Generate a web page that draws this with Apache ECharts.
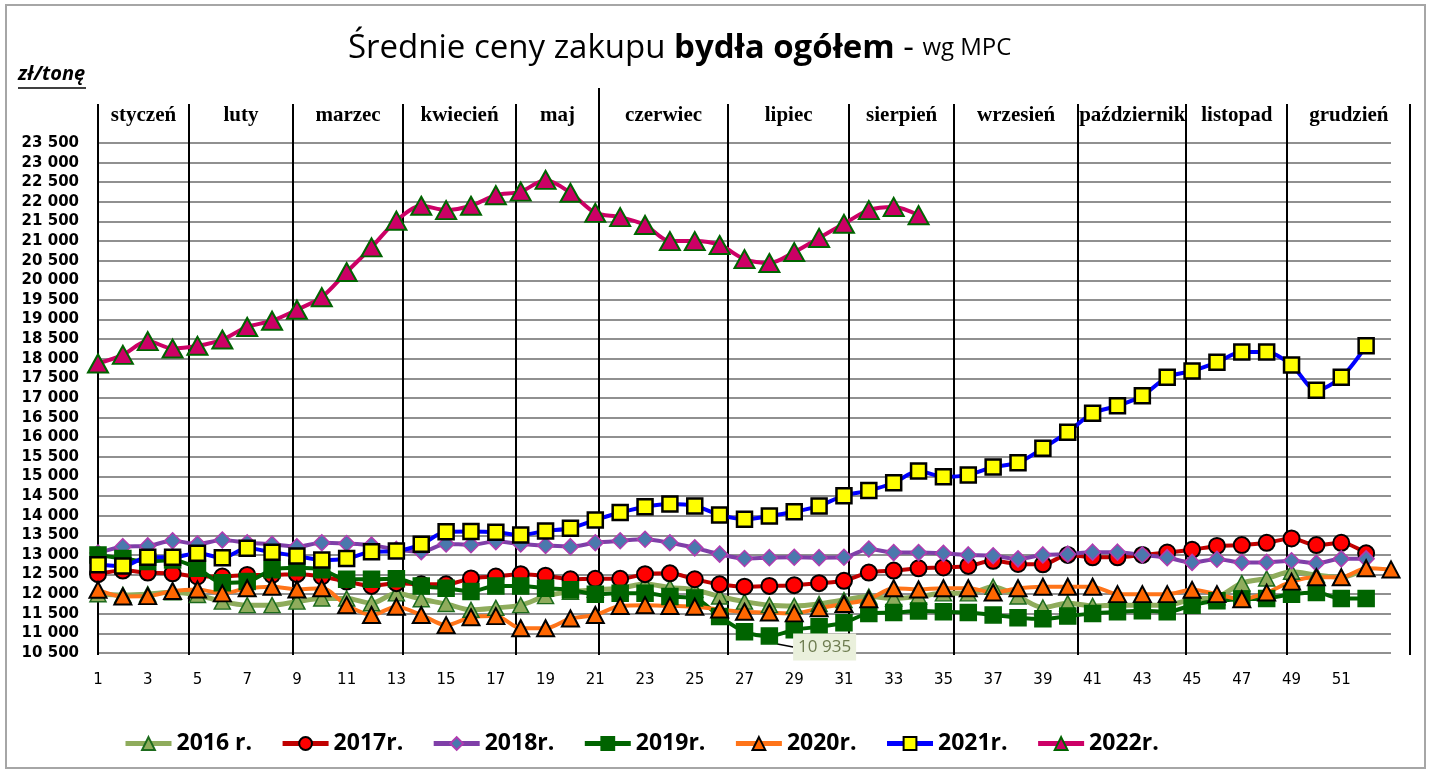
<!DOCTYPE html>
<html><head><meta charset="utf-8">
<script src="https://cdn.jsdelivr.net/npm/echarts@6/dist/echarts.min.js"></script>
<style>html,body{margin:0;padding:0;background:#fff}#c{width:1432px;height:773px}</style>
</head><body><div id="c"></div><script>
// ---- data ----
const weeks = Array.from({length: 53}, (_, i) => String(i + 1));
const yearNames = ['2016 r.', '2017r.', '2018r.', '2019r.', '2020r.', '2021r.', '2022r.'];
const s2016 = [12000,11980,12000,12050,11980,11810,11720,11720,11810,11890,11890,11770,12020,11870,11750,11600,11650,11720,11950,12060,12110,12150,12260,12170,12110,11940,11810,11720,11700,11750,11850,11940,11890,11940,12020,12020,12190,11940,11660,11770,11700,11720,11720,11720,11870,11920,12280,12400,12570,12490,12430,12660];
const s2017 = [12510,12600,12550,12530,12450,12450,12490,12490,12510,12450,12320,12210,12280,12250,12250,12400,12450,12510,12470,12380,12390,12390,12510,12530,12380,12250,12190,12210,12230,12280,12340,12550,12600,12660,12680,12720,12850,12770,12760,13000,12940,12940,13000,13060,13130,13230,13250,13310,13420,13250,13310,13040];
const s2018 = [13050,13210,13230,13360,13280,13380,13310,13270,13210,13310,13290,13250,13140,13080,13280,13260,13340,13280,13240,13210,13310,13360,13400,13310,13180,13020,12910,12930,12940,12930,12940,13150,13060,13060,13040,13000,12980,12900,13000,13020,13070,13070,13000,12930,12810,12890,12810,12810,12850,12790,12900,12900];
const s2019 = [13000,12910,12830,12870,12660,12290,12320,12620,12670,12620,12380,12380,12390,12210,12150,12070,12210,12210,12150,12110,12000,12020,12020,11940,11900,11430,11040,10935,11090,11170,11270,11510,11530,11570,11550,11530,11470,11400,11370,11440,11510,11550,11580,11550,11720,11830,11870,11890,12000,12040,11890,11890];
const s2020 = [12110,11940,11950,12080,12120,12020,12150,12190,12120,12150,11720,11470,11680,11470,11210,11410,11440,11130,11130,11380,11470,11700,11720,11700,11680,11610,11550,11530,11510,11640,11750,11870,12150,12120,12150,12150,12040,12150,12190,12190,12190,12000,12000,12000,12110,12000,11870,12040,12320,12430,12430,12660,12630];
const s2021 = [12750,12720,12940,12940,13040,12930,13170,13070,12970,12870,12910,13080,13100,13270,13590,13600,13580,13510,13610,13680,13890,14080,14230,14300,14250,14020,13910,13990,14100,14250,14510,14640,14840,15140,14990,15040,15240,15350,15720,16130,16610,16800,17060,17530,17690,17910,18170,18170,17840,17200,17530,18330];
const s2022 = [17880,18100,18450,18260,18330,18490,18810,18970,19250,19570,20210,20840,21520,21900,21790,21900,22170,22260,22560,22230,21720,21610,21410,21000,21000,20900,20540,20440,20720,21080,21440,21790,21870,21660];
const months = ['styczeń','luty','marzec','kwiecień','maj','czerwiec','lipiec','sierpień','wrzesień','październik','listopad','grudzień'];
// month boundaries in week units
const monthBounds = [1, 4.66, 8.84, 13.27, 17.81, 21.15, 26.34, 31.21, 35.43, 40.42, 44.77, 48.83, 53.78];
const yMin = 10500, yMax = 23500, yStep = 500;
const labelWeekIndex2019 = 27; // week 28 -> 10 935 label

// ---- chart ----
const fmt = v => String(v).replace(/\B(?=(\d{3})+(?!\d))/g, ' ');
const chart = echarts.init(document.getElementById('c'));

function mk(name, data, o) {
  return {
    name, type: 'line', data, smooth: 0.3, showAllSymbol: true,
    xAxisIndex: 0, yAxisIndex: 0,
    symbol: o.symbol, symbolSize: o.size,
    lineStyle: {color: o.line, width: o.lw || 4},
    itemStyle: {color: o.fill, borderColor: o.border, borderWidth: o.bw || 1.5},
    emphasis: {disabled: true}
  };
}

const series = [
  mk(yearNames[0], s2016, {symbol: 'triangle', size: [16, 15], line: '#8fac5c', fill: '#8fac5c', border: '#1d6b1d', lw: 5}),
  mk(yearNames[1], s2017, {symbol: 'circle', size: 16, line: '#c00000', fill: '#ff0000', border: '#000', bw: 2}),
  mk(yearNames[2], s2018, {symbol: 'diamond', size: 16, line: '#7f3fa8', fill: '#4a78ad', border: '#b03cb0'}),
  mk(yearNames[3], s2019, {symbol: 'rect', size: 16, line: '#006400', fill: '#006400', border: '#006400'}),
  mk(yearNames[4], s2020, {symbol: 'triangle', size: [17, 16], line: '#ff7419', fill: '#ff6600', border: '#000', bw: 2}),
  mk(yearNames[5], s2021, {symbol: 'rect', size: 15, line: '#0000ff', fill: '#ffff00', border: '#000', bw: 2.5}),
  mk(yearNames[6], s2022, {symbol: 'triangle', size: [20, 18], line: '#cc0066', fill: '#cc0066', border: '#006400', bw: 2})
];
// label 10 935 on 2019
series[3].data = s2019.map((v, i) => i === labelWeekIndex2019 ? {
  value: v,
  label: {show: true, position: 'right', distance: 5, formatter: p => fmt(p.value), color: '#6d7b4f',
    fontFamily: 'Open Sans', fontSize: 17, backgroundColor: '#eaf0dc', padding: [5, 5, 5, 5]},
  labelLine: {show: true, lineStyle: {color: '#000', width: 1.5}}
} : v);
series[3].labelLayout = p => p.dataIndex === labelWeekIndex2019 ? {dx: 10, dy: 11} : {};

series.push({type: 'line', xAxisIndex: 1, yAxisIndex: 0, data: [], silent: true});

chart.setOption({
  animation: false,
  backgroundColor: '#fff',
  title: {
    left: 343, top: 27,
    text: '{a|Średnie ceny zakupu }{b|bydła ogółem}{a| - }{c|wg MPC}',
    textStyle: {fontWeight: 'normal', rich: {
      a: {fontFamily: 'Open Sans', fontSize: 33, fontWeight: 'normal', color: '#000'},
      b: {fontFamily: 'Open Sans', fontSize: 33, fontWeight: 'bold', color: '#000'},
      c: {fontFamily: 'Open Sans', fontSize: 24, fontWeight: 'normal', color: '#000'}
    }}
  },
  legend: {
    left: 118, top: 727, itemWidth: 46, itemHeight: 16, itemGap: 28,
    data: yearNames,
    lineStyle: {width: 5},
    textStyle: {fontFamily: 'Open Sans', fontWeight: 'bold', fontSize: 23, color: '#000'}
  },
  grid: {left: 98, right: 41, top: 143, bottom: 120, containLabel: false},
  xAxis: [{
    type: 'category', data: weeks, boundaryGap: false,
    axisLine: {show: false}, axisTick: {show: false},
    axisLabel: {interval: (i) => i % 2 === 0 && i < 52, margin: 20, fontFamily: 'DejaVu Sans', fontSize: 15, color: '#000'},
    splitLine: {show: false}
  }, {
    type: 'value', min: 1, max: 53, show: false
  }],
  yAxis: {
    type: 'value', min: yMin, max: yMax, interval: yStep,
    axisLine: {show: false}, axisTick: {show: false},
    axisLabel: {formatter: fmt, margin: 19, fontFamily: 'DejaVu Sans', fontWeight: 'bold', fontSize: 15, color: '#000'},
    splitLine: {lineStyle: {color: '#909090', width: 2}}
  },
  series
});

// decorations: month separators & labels, axis unit, frame
const g = [];
const px = w => chart.convertToPixel({xAxisIndex: 1}, w);
monthBounds.forEach((w, i) => {
  const x = Math.round(px(w));
  const top = i === 5 ? 88 : 104;
  g.push({type: 'line', shape: {x1: x, y1: top, x2: x, y2: 655}, style: {stroke: '#000', lineWidth: 2}, z: 1});
});
months.forEach((m, i) => {
  const cx = (px(monthBounds[i]) + px(monthBounds[i + 1])) / 2;
  g.push({type: 'text', x: cx, y: 116, style: {text: m, fill: '#000', font: 'bold 21px "Liberation Serif"', textAlign: 'center', textVerticalAlign: 'middle'}, z: 5});
});
g.push({type: 'text', x: 18, y: 74, style: {text: 'zł/tonę', fill: '#000', font: 'italic bold 20px "Open Sans"', textAlign: 'left', textVerticalAlign: 'middle'}, z: 5});
g.push({type: 'line', shape: {x1: 18, y1: 88, x2: 86, y2: 88}, style: {stroke: '#000', lineWidth: 1.5}, z: 5});
g.push({type: 'rect', shape: {x: 6, y: 5, width: 1419, height: 763}, style: {fill: 'none', stroke: '#a6a6a6', lineWidth: 2}, z: 0});
chart.setOption({graphic: g});
</script></body></html>
